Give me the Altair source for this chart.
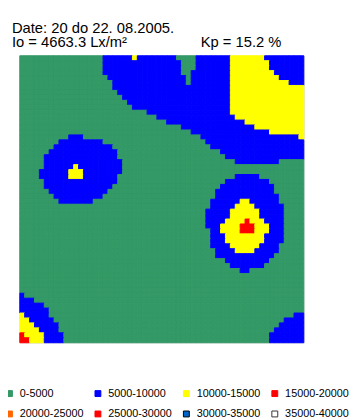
import re
import altair as alt
import pandas as pd

# Illuminance classes (legend) and their colours
labels = ["0-5000", "5000-10000", "10000-15000", "15000-20000",
          "20000-25000", "25000-30000", "30000-35000", "35000-40000"]
fill_colors = ["#339966", "#0000ff", "#ffff00", "#ff0000",
               "#ff6600", "#ff0000", "#0066cc", "#ffffff"]
edge_colors = ["#339966", "#0000ff", "#ffff00", "#ff0000",
               "#ff6600", "#ff0000", "#000000", "#333333"]
codes = {"G": 0, "B": 1, "Y": 2, "R": 3}

# Class map, 58 x 58 cells, one run-length string per row
grid_rows = [
    "G17B6Y1B8G4B7Y7B8",
    "G17B16G3B7Y8B7",
    "G17B16G3B7Y8B7",
    "G17B16G2B8Y9B6",
    "G18B16G1B8Y10B5",
    "G19B15G1B8Y12B3",
    "G19B24Y15",
    "G20B23Y15",
    "G21B22Y15",
    "G22B21Y15",
    "G23B20Y15",
    "G26B17Y15",
    "G28B16Y14",
    "G30B16Y12",
    "G33B15Y10",
    "G35B16Y7",
    "G10B3G24B20Y1",
    "G8B9G21B20",
    "G7B12G20B19",
    "G6B14G21B17",
    "G5B15G22B16",
    "G5B16G23B9G5",
    "G5B6Y1B9G37",
    "G4B6Y3B8G37",
    "G4B6Y3B7G24B5G9",
    "G5B15G22B9G7",
    "G5B14G22B11G6",
    "G6B12G22B12G6",
    "G7B10G23B13G5",
    "G8B7G24B6Y2B6G5",
    "G39B5Y4B6G4",
    "G38B5Y6B5G4",
    "G38B5Y6B5G4",
    "G38B4Y4R1Y3B4G4",
    "G38B3Y4R3Y3B3G4",
    "G39B2Y4R3Y3B3G4",
    "G39B3Y8B4G4",
    "G39B3Y8B4G4",
    "G39B4Y6B4G5",
    "G40B4Y4B5G5",
    "G40B12G6",
    "G42B9G7",
    "G43B7G8",
    "G45B2G11",
    "G58",
    "G58",
    "G58",
    "G58",
    "B1G57",
    "B3G55",
    "B5G53",
    "B6G52",
    "Y1B5G50B2",
    "Y2B5G47B4",
    "Y3B5G45B5",
    "Y4B4G44B6",
    "R1Y4B4G42B7",
    "R2Y3B4G42B7",
]

title_line = "Date: 20 do 22. 08.2005."
io_text = "Io = 4663.3 Lx/m\u00b2"
kp_text = "Kp = 15.2 %"

records = []
for r, row in enumerate(grid_rows):
    c = 0
    for ch, n in re.findall(r"([GBYR])(\d+)", row):
        for _ in range(int(n)):
            records.append({"col": c, "row": r, "band": labels[codes[ch]]})
            c += 1
df = pd.DataFrame(records)

legend = alt.Legend(
    title=None, orient="none", legendX=-16, legendY=338,
    columns=4, direction="horizontal", gridAlign="all",
    symbolType="square", symbolSize=36, symbolStrokeWidth=1,
    labelFont="Liberation Sans", labelFontSize=11, labelColor="#000000",
    labelOffset=5, columnPadding=9, rowPadding=9, padding=0,
    labelLimit=120,
)

chart = alt.Chart(df).mark_rect(strokeWidth=1).encode(
    x=alt.X("col:O", axis=None, scale=alt.Scale(paddingInner=0, paddingOuter=0)),
    y=alt.Y("row:O", axis=None, scale=alt.Scale(paddingInner=0, paddingOuter=0)),
    fill=alt.Fill("band:N", scale=alt.Scale(domain=labels, range=fill_colors), legend=legend),
    stroke=alt.Stroke("band:N", scale=alt.Scale(domain=labels, range=edge_colors), legend=legend),
).properties(
    width=289, height=292,
    autosize=alt.AutoSizeParams(type="none"),
    padding={"left": 12, "top": 45, "right": 46, "bottom": 73},
    title=alt.TitleParams(
        text=title_line,
        subtitle=io_text + "\u00a0" * 18 + kp_text,
        anchor="start", frame="group", dx=-8, offset=5,
        font="Liberation Sans", fontSize=15, fontWeight="normal", color="#000000",
        subtitleFont="Liberation Sans", subtitleFontSize=15, subtitleColor="#000000",
        subtitlePadding=0,
    ),
).configure_view(stroke="#999999", strokeWidth=1).configure(background="#ffffff")

chart.save("out.html", embed_options={"renderer": "svg", "actions": False})
